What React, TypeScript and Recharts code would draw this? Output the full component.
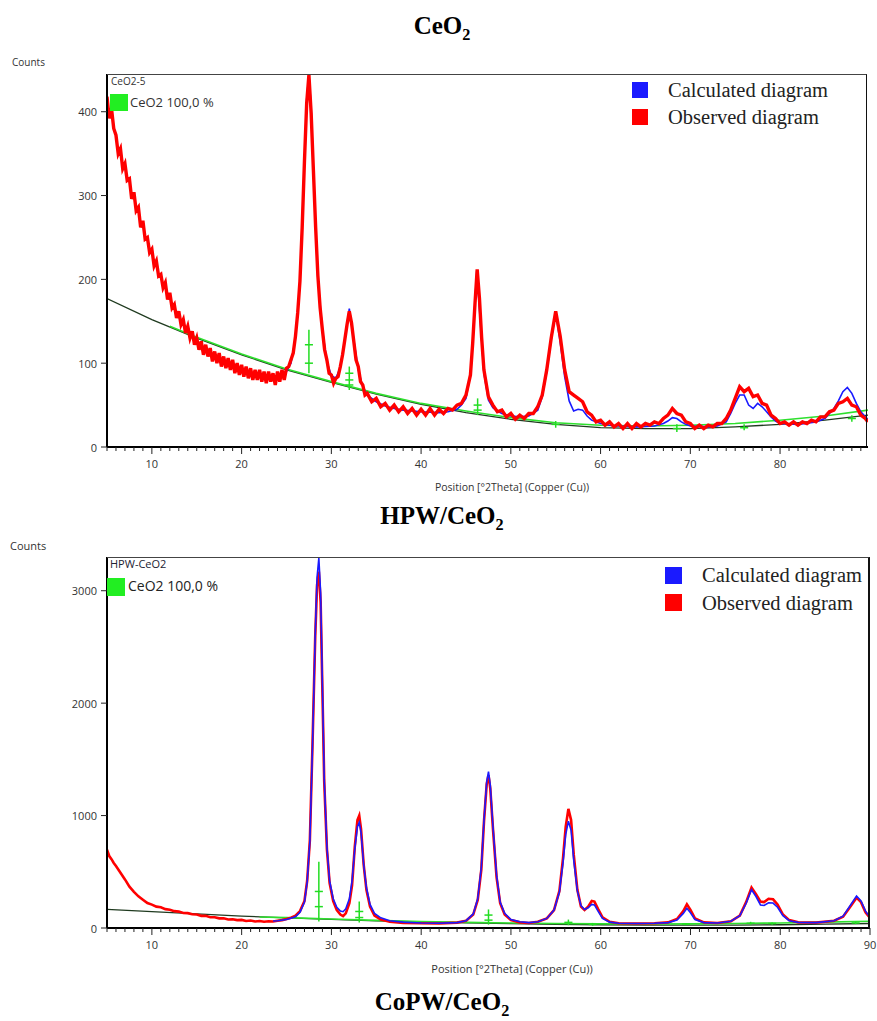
import { Line, LineChart, ReferenceLine, XAxis, YAxis } from "recharts";

type Pt = [number, number];

// ---- CeO2 (top panel) ----
const ceo2Observed: Pt[] = [
  [5, 418], [5.25, 392], [5.5, 404], [5.75, 380], [6, 372], [6.25, 350], [6.5, 356], [6.75, 332],
  [7, 338], [7.25, 318], [7.5, 320], [7.75, 296], [8, 304], [8.25, 282], [8.5, 286], [8.75, 262],
  [9, 270], [9.25, 248], [9.5, 250], [9.75, 232], [10, 236], [10.25, 216], [10.5, 222], [10.75, 204],
  [11, 206], [11.25, 190], [11.5, 196], [11.75, 176], [12, 184], [12.25, 166], [12.5, 170], [12.75, 154],
  [13, 162], [13.25, 146], [13.5, 152], [13.75, 136], [14, 144], [14.25, 130], [14.5, 138], [14.75, 122],
  [15, 130], [15.25, 116], [15.5, 126], [15.75, 110], [16, 122], [16.25, 108], [16.5, 118], [16.75, 102],
  [17, 114], [17.25, 100], [17.5, 112], [17.75, 96], [18, 108], [18.25, 94], [18.5, 106], [18.75, 92],
  [19, 104], [19.25, 88], [19.5, 100], [19.75, 86], [20, 98], [20.25, 84], [20.5, 96], [20.75, 82],
  [21, 94], [21.25, 80], [21.5, 92], [21.75, 80], [22, 92], [22.25, 78], [22.5, 90], [22.75, 76],
  [23, 90], [23.25, 78], [23.5, 88], [23.75, 74], [24, 90], [24.25, 78], [24.5, 92], [24.75, 80],
  [25, 94], [25.25, 96], [25.5, 104], [25.75, 112], [26, 132], [26.25, 160], [26.5, 198], [26.75, 262],
  [27, 340], [27.25, 410], [27.5, 444], [27.75, 398], [28, 330], [28.25, 262], [28.5, 204], [28.75, 166],
  [29, 140], [29.25, 116], [29.5, 104], [29.75, 88], [30, 86], [30.25, 76], [30.5, 82], [30.75, 84],
  [31, 96], [31.25, 110], [31.5, 128], [31.75, 146], [32, 162], [32.25, 148], [32.5, 126], [32.75, 104],
  [33, 96], [33.25, 78], [33.5, 74], [33.75, 62], [34, 64], [34.5, 54], [35, 58], [35.5, 48],
  [36, 52], [36.5, 44], [37, 50], [37.5, 42], [38, 48], [38.5, 40], [39, 46], [39.5, 38],
  [40, 45], [40.5, 38], [41, 46], [41.5, 38], [42, 45], [42.5, 40], [43, 46], [43.5, 44],
  [44, 50], [44.5, 52], [45, 62], [45.5, 86], [45.75, 124], [46, 170], [46.25, 212], [46.5, 178],
  [46.75, 130], [47, 92], [47.5, 60], [48, 50], [48.5, 42], [49, 44], [49.5, 36], [50, 40],
  [50.5, 33], [51, 38], [51.5, 34], [52, 40], [52.5, 40], [53, 48], [53.5, 62], [54, 92],
  [54.5, 130], [55, 162], [55.5, 132], [56, 92], [56.5, 66], [57, 62], [57.5, 58], [58, 54],
  [58.5, 42], [59, 38], [59.5, 30], [60, 32], [60.5, 26], [61, 30], [61.5, 24], [62, 28],
  [62.5, 22], [63, 28], [63.5, 22], [64, 28], [64.5, 24], [65, 28], [65.5, 26], [66, 30],
  [66.5, 28], [67, 34], [67.5, 38], [68, 46], [68.5, 40], [69, 38], [69.5, 30], [70, 28],
  [70.5, 22], [71, 26], [71.5, 22], [72, 26], [72.5, 24], [73, 28], [73.5, 28], [74, 34],
  [74.5, 44], [75, 58], [75.5, 72], [76, 66], [76.5, 70], [77, 60], [77.5, 62], [78, 52],
  [78.5, 50], [79, 38], [79.5, 34], [80, 28], [80.5, 30], [81, 26], [81.5, 30], [82, 26],
  [82.5, 30], [83, 28], [83.5, 32], [84, 30], [84.5, 36], [85, 36], [85.5, 42], [86, 44],
  [86.5, 52], [87, 54], [87.5, 58], [88, 50], [88.5, 48], [89, 38], [89.5, 34], [89.8, 30],
];

const ceo2Calculated: Pt[] = [
  [24, 86], [25, 90], [25.5, 100], [26, 130], [26.5, 195], [27, 340], [27.25, 415], [27.5, 445],
  [27.75, 405], [28, 330], [28.25, 262], [28.5, 200], [29, 140], [29.5, 102], [30, 85], [30.5, 82],
  [31, 95], [31.5, 128], [32, 165], [32.5, 128], [33, 92], [33.5, 72], [34, 62], [35, 54],
  [36, 49], [37, 46], [38, 44], [40, 42], [42, 41], [43, 42], [44, 45], [44.5, 50],
  [45, 58], [45.5, 86], [45.75, 125], [46.2, 210], [46.6, 150], [47, 88], [47.5, 56], [48, 47],
  [48.5, 43], [49, 40], [50, 37], [51, 36], [52, 37], [53, 44], [53.5, 60], [54, 90],
  [54.5, 128], [55, 160], [55.5, 125], [56, 84], [56.5, 55], [57, 43], [57.5, 45], [58, 44],
  [58.5, 37], [59, 32], [60, 28], [61, 26], [62, 25], [64, 24], [66, 25], [67, 28],
  [67.5, 31], [68, 35], [68.5, 34], [69, 30], [69.5, 27], [70, 25], [72, 24], [73, 25],
  [74, 30], [74.5, 40], [75, 52], [75.5, 62], [76, 62], [76.5, 50], [77, 46], [77.5, 52],
  [78, 48], [78.5, 42], [79, 36], [79.5, 31], [80, 28], [82, 27], [84, 30], [85, 34],
  [85.5, 40], [86, 46], [86.5, 55], [87, 66], [87.5, 71], [88, 64], [88.5, 52], [89, 42],
  [89.5, 36], [89.8, 33],
];

const ceo2Background: Pt[] = [
  [5, 177], [10, 152], [15, 130], [20, 110], [25, 92], [30, 77], [35, 63], [40, 51], [45, 41],
  [50, 33], [55, 27], [60, 23], [65, 22], [70, 22], [75, 24], [80, 27], [85, 32], [89.8, 38],
];

const ceo2Phase: Pt[] = [
  [12, 144], [15, 131], [20, 111], [25, 93], [30, 78], [35, 64], [40, 52], [45, 43], [50, 35],
  [55, 29], [60, 26], [65, 25], [70, 26], [75, 28], [80, 32], [85, 37], [89.8, 44],
];

const ceo2StickPos = [27.5, 32, 46.3, 55, 68.5, 76, 88];
const ceo2StickLow = [88, 68, 38, 23, 18, 20, 30];
const ceo2StickHigh = [140, 96, 58, 31, 27, 27, 38];
const ceo2StickCross = [[122, 100], [88, 80, 74], [50, 44], [27], [22], [23], [34]];

const ceo2YTicks = [0, 100, 200, 300, 400];

// ---- HPW/CeO2 (bottom panel) ----
const hpwObserved: Pt[] = [
  [5, 697], [5.25, 640], [5.5, 612], [5.75, 578], [6, 552], [6.5, 492], [7, 432], [7.5, 368],
  [8, 322], [8.5, 282], [9, 252], [9.5, 222], [10, 208], [10.5, 190], [11, 184], [11.5, 168],
  [12, 162], [12.5, 150], [13, 146], [13.5, 134], [14, 132], [14.5, 122], [15, 120], [15.5, 108],
  [16, 108], [16.5, 96], [17, 96], [17.5, 86], [18, 86], [18.5, 76], [19, 78], [19.5, 70],
  [20, 72], [20.5, 62], [21, 66], [21.5, 58], [22, 62], [22.5, 56], [23, 60], [23.5, 58],
  [24, 64], [24.5, 70], [25, 80], [25.5, 92], [26, 110], [26.5, 150], [27, 240], [27.3, 420],
  [27.6, 780], [27.9, 1650], [28.2, 2600], [28.4, 3050], [28.6, 3170], [28.8, 2900], [29, 2100], [29.2, 1300],
  [29.5, 700], [29.8, 400], [30.2, 240], [30.6, 160], [31, 120], [31.3, 106], [31.6, 130], [32, 220],
  [32.3, 380], [32.6, 720], [32.9, 960], [33.1, 1000], [33.3, 880], [33.6, 560], [33.9, 340], [34.3, 190],
  [34.8, 110], [35.5, 75], [36.5, 55], [38, 45], [40, 42], [42, 40], [44, 48], [45, 65],
  [45.8, 120], [46.3, 250], [46.7, 520], [47, 950], [47.3, 1280], [47.5, 1360], [47.7, 1240], [48, 880],
  [48.4, 450], [48.8, 220], [49.3, 120], [50, 70], [51, 50], [52, 45], [53, 55], [54, 85],
  [54.8, 160], [55.4, 330], [55.8, 620], [56.1, 900], [56.4, 1060], [56.7, 960], [57, 650], [57.4, 340],
  [57.8, 190], [58.2, 160], [58.6, 190], [59, 240], [59.3, 235], [59.7, 170], [60.2, 95], [61, 55],
  [62, 42], [64, 40], [66, 42], [67.5, 50], [68.5, 80], [69.2, 150], [69.6, 210], [70, 160],
  [70.5, 85], [71.5, 50], [73, 45], [74.5, 60], [75.5, 110], [76.2, 230], [76.8, 360], [77.3, 300],
  [77.8, 235], [78.2, 230], [78.7, 260], [79.2, 255], [79.7, 210], [80.3, 120], [81, 70], [82, 50],
  [84, 48], [86, 65], [87, 100], [87.8, 190], [88.5, 270], [89, 230], [89.5, 140], [90, 90],
];

const hpwCalculated: Pt[] = [
  [23.5, 62], [24, 65], [25, 75], [26, 100], [26.5, 140], [27, 230], [27.3, 410], [27.6, 770],
  [27.9, 1640], [28.2, 2620], [28.4, 3120], [28.6, 3290], [28.8, 2980], [29, 2150], [29.2, 1330], [29.5, 720],
  [29.8, 420], [30.2, 260], [30.6, 185], [31, 150], [31.3, 145], [31.6, 170], [32, 260], [32.3, 420],
  [32.6, 700], [32.9, 900], [33.1, 940], [33.3, 850], [33.6, 560], [33.9, 360], [34.3, 210], [34.8, 130],
  [35.5, 90], [36.5, 65], [38, 52], [40, 45], [42, 42], [44, 48], [45, 65], [45.8, 125],
  [46.3, 260], [46.7, 540], [47, 960], [47.3, 1300], [47.5, 1390], [47.7, 1270], [48, 900], [48.4, 470],
  [48.8, 230], [49.3, 130], [50, 75], [51, 55], [52, 48], [53, 55], [54, 85], [54.8, 160],
  [55.4, 320], [55.8, 580], [56.1, 830], [56.4, 950], [56.7, 870], [57, 600], [57.4, 330], [57.8, 200],
  [58.2, 165], [58.6, 180], [59, 210], [59.3, 205], [59.7, 150], [60.2, 85], [61, 52], [62, 42],
  [64, 40], [66, 42], [67.5, 48], [68.5, 70], [69.2, 130], [69.6, 175], [70, 135], [70.5, 75],
  [71.5, 48], [73, 45], [74.5, 60], [75.5, 110], [76.2, 220], [76.8, 340], [77.3, 280], [77.8, 205],
  [78.2, 200], [78.7, 225], [79.2, 222], [79.7, 185], [80.3, 110], [81, 65], [82, 50], [84, 48],
  [86, 65], [87, 105], [87.8, 200], [88.5, 285], [89, 240], [89.5, 150], [90, 95],
];

const hpwBackground: Pt[] = [
  [5, 165], [10, 145], [15, 125], [20, 106], [25, 90], [30, 76], [35, 64], [40, 54], [45, 46],
  [50, 39], [55, 33], [60, 29], [65, 26], [70, 25], [75, 26], [80, 29], [85, 34], [90, 40],
];

const hpwPhase: Pt[] = [
  [22, 98], [25, 92], [30, 80], [35, 68], [40, 58], [45, 50], [50, 44], [55, 40], [60, 37],
  [65, 36], [70, 37], [75, 40], [80, 45], [85, 52], [90, 60],
];

const hpwStickPos = [28.6, 33.1, 47.5, 56.4, 59.1, 69.5, 76.7, 79.1, 88.4];
const hpwStickLow = [58, 50, 30, 25, 20, 25, 30, 30, 35];
const hpwStickHigh = [590, 235, 165, 75, 45, 45, 55, 50, 55];
const hpwStickCross = [[325, 190], [147, 93], [115, 70], [50], [32], [35], [42], [40], [45]];

const hpwYTicks = [0, 1000, 2000, 3000];

const rows = (pts: Pt[]) => pts.map(([x, y]) => ({ x, y }));

const UI_FONT = "'Open Sans', 'Noto Sans', sans-serif";
const SERIF = "'Liberation Serif', 'Times New Roman', serif";

// one tick per degree, labels only on the tens
const minorTicks = (from: number, to: number) => {
  const out: number[] = [];
  for (let v = from; v <= to; v++) out.push(v);
  return out;
};

const XTick = (props: any) => {
  const { x, y, payload } = props;
  const v = payload.value;
  const major = v % 10 === 0;
  return (
    <g>
      <line x1={x} x2={x} y1={y} y2={y + (major ? 7 : 4)} stroke="#222" strokeWidth={1} />
      {major && (
        <text x={x} y={y + 16} textAnchor="middle" dominantBaseline="central" fontSize={11} fill="#333" fontFamily={UI_FONT}>
          {v}
        </text>
      )}
    </g>
  );
};

const YTick = (props: any) => {
  const { x, y, payload } = props;
  return (
    <g>
      <line x1={x - 6} x2={x} y1={y} y2={y} stroke="#222" strokeWidth={1} />
      <text x={x - 10} y={y} textAnchor="end" dominantBaseline="central" fontSize={11} fill="#333" fontFamily={UI_FONT}>
        {payload.value}
      </text>
    </g>
  );
};

interface PanelProps {
  top: number;
  height: number;
  margin: { top: number; right: number; bottom: number; left: number };
  xDomain: [number, number];
  yDomain: [number, number];
  xTicks: number[];
  yTicks: number[];
  observed: Pt[];
  calculated: Pt[];
  background: Pt[];
  phase: Pt[];
  stickPos: number[];
  stickLow: number[];
  stickHigh: number[];
  stickCross: number[][];
  redOnTop: boolean;
  obsWidth: number;
}

const Panel = (p: PanelProps) => {
  const obs = (
    <Line key="obs" data={rows(p.observed)} dataKey="y" type="linear" stroke="#ff0000" strokeWidth={p.obsWidth} dot={false} isAnimationActive={false} />
  );
  const calc = (
    <Line key="calc" data={rows(p.calculated)} dataKey="y" type="linear" stroke="#1a1aff" strokeWidth={1.6} dot={false} isAnimationActive={false} />
  );
  return (
    <div style={{ position: "absolute", left: 0, top: p.top }}>
      <LineChart width={877} height={p.height} margin={p.margin}>
        <XAxis
          dataKey="x"
          type="number"
          domain={p.xDomain}
          allowDataOverflow
          ticks={p.xTicks}
          interval={0}
          tick={XTick}
          tickLine={false}
          tickSize={0}
          tickMargin={0}
          height={30}
          axisLine={{ stroke: "#000", strokeWidth: 2 }}
        />
        <YAxis
          dataKey="y"
          type="number"
          domain={p.yDomain}
          allowDataOverflow
          ticks={p.yTicks}
          interval={0}
          tick={YTick}
          tickLine={false}
          tickSize={0}
          tickMargin={0}
          width={60}
          axisLine={{ stroke: "#000", strokeWidth: 2 }}
        />
        <Line data={rows(p.background)} dataKey="y" type="linear" stroke="#1f3a1f" strokeWidth={1.3} dot={false} isAnimationActive={false} />
        <Line data={rows(p.phase)} dataKey="y" type="linear" stroke="#2ee02e" strokeWidth={1.6} dot={false} isAnimationActive={false} />
        {p.stickPos.map((pos, i) => (
          <ReferenceLine
            key={`s${i}`}
            segment={[{ x: pos, y: p.stickLow[i] }, { x: pos, y: p.stickHigh[i] }]}
            stroke="#22dd22"
            strokeWidth={1.5}
          />
        ))}
        {p.stickPos.flatMap((pos, i) =>
          p.stickCross[i].map((c, j) => (
            <ReferenceLine
              key={`c${i}-${j}`}
              segment={[{ x: pos - 0.45, y: c }, { x: pos + 0.45, y: c }]}
              stroke="#22dd22"
              strokeWidth={1.5}
            />
          ))
        )}
        {p.redOnTop ? [calc, obs] : [obs, calc]}
      </LineChart>
    </div>
  );
};

const Title = ({ y, children }: { y: number; children: any }) => (
  <div
    style={{
      position: "absolute",
      left: 0,
      top: y - 14,
      width: 884,
      textAlign: "center",
      fontFamily: SERIF,
      fontWeight: "bold",
      fontSize: 25,
      lineHeight: "26px",
      color: "#000",
    }}
  >
    {children}
  </div>
);

const abs = (left: number, top: number, extra: any = {}) => ({
  position: "absolute" as const,
  left,
  top,
  whiteSpace: "nowrap" as const,
  ...extra,
});

const LegendBox = ({ left, top, sq }: { left: number; top: number; sq: number }) => (
  <>
    <div style={abs(left, top, { width: sq, height: sq, background: "#1a1aff" })} />
    <div style={abs(left, top + 27, { width: sq, height: sq, background: "#ff0000" })} />
  </>
);

const Sub = () => <sub style={{ fontSize: "0.65em", lineHeight: 0 }}>2</sub>;

export default function App() {
  return (
    <div style={{ position: "absolute", left: 0, top: 0, width: 877, height: 1021, background: "#fff", overflow: "hidden" }}>
      <Title y={27}>
        CeO<Sub />
      </Title>

      <Panel
        top={0}
        height={500}
        margin={{ top: 74, right: 9, bottom: 23, left: 47 }}
        xDomain={[5, 89.8]}
        yDomain={[0, 445]}
        xTicks={minorTicks(5, 89)}
        yTicks={ceo2YTicks}
        observed={ceo2Observed}
        calculated={ceo2Calculated}
        background={ceo2Background}
        phase={ceo2Phase}
        stickPos={ceo2StickPos}
        stickLow={ceo2StickLow}
        stickHigh={ceo2StickHigh}
        stickCross={ceo2StickCross}
        redOnTop={true}
        obsWidth={3.4}
      />
      <div style={abs(107, 74, { width: 760, height: 372, borderTop: "1.5px solid #444", borderRight: "1.5px solid #111", boxSizing: "border-box", pointerEvents: "none" })} />
      <div style={abs(12, 55, { fontFamily: UI_FONT, fontSize: 10, color: "#333" })}>Counts</div>
      <div style={abs(111, 74, { fontFamily: UI_FONT, fontSize: 10, color: "#333" })}>CeO2-5</div>
      <div style={abs(110, 94, { width: 18, height: 17, background: "#22ee22" })} />
      <div style={abs(130, 93, { fontFamily: UI_FONT, fontSize: 13, color: "#333" })}>CeO2 100,0 %</div>
      <LegendBox left={632} top={82} sq={16} />
      <div style={abs(668, 77, { fontFamily: SERIF, fontSize: 20.5, color: "#222", lineHeight: "26px" })}>Calculated diagram</div>
      <div style={abs(668, 104, { fontFamily: SERIF, fontSize: 20.5, color: "#222", lineHeight: "26px" })}>Observed diagram</div>
      <div style={abs(512, 480, { transform: "translateX(-50%)", fontFamily: UI_FONT, fontSize: 10.5, color: "#333" })}>
        Position [°2Theta] (Copper (Cu))
      </div>

      <Title y={517}>
        HPW/CeO<Sub />
      </Title>

      <Panel
        top={480}
        height={520}
        margin={{ top: 77, right: 7, bottom: 42, left: 47 }}
        xDomain={[5, 90]}
        yDomain={[0, 3300]}
        xTicks={minorTicks(5, 90)}
        yTicks={hpwYTicks}
        observed={hpwObserved}
        calculated={hpwCalculated}
        background={hpwBackground}
        phase={hpwPhase}
        stickPos={hpwStickPos}
        stickLow={hpwStickLow}
        stickHigh={hpwStickHigh}
        stickCross={hpwStickCross}
        redOnTop={false}
        obsWidth={2.6}
      />
      <div style={abs(107, 557, { width: 763, height: 371, borderTop: "1.5px solid #444", borderRight: "2px solid #111", boxSizing: "border-box", pointerEvents: "none" })} />
      <div style={abs(10, 538, { fontFamily: UI_FONT, fontSize: 11, color: "#333" })}>Counts</div>
      <div style={abs(110, 556, { fontFamily: UI_FONT, fontSize: 11, color: "#223" })}>HPW-CeO2</div>
      <div style={abs(107, 578, { width: 18, height: 18, background: "#22ee22" })} />
      <div style={abs(128, 576, { fontFamily: UI_FONT, fontSize: 14, color: "#222" })}>CeO2 100,0 %</div>
      <LegendBox left={665} top={567} sq={17} />
      <div style={abs(702, 562, { fontFamily: SERIF, fontSize: 20.5, color: "#222", lineHeight: "26px" })}>Calculated diagram</div>
      <div style={abs(702, 590, { fontFamily: SERIF, fontSize: 20.5, color: "#222", lineHeight: "26px" })}>Observed diagram</div>
      <div style={abs(512, 961, { transform: "translateX(-50%)", fontFamily: UI_FONT, fontSize: 11, color: "#333" })}>
        Position [°2Theta] (Copper (Cu))
      </div>

      <Title y={1003}>
        CoPW/CeO<Sub />
      </Title>
    </div>
  );
}
